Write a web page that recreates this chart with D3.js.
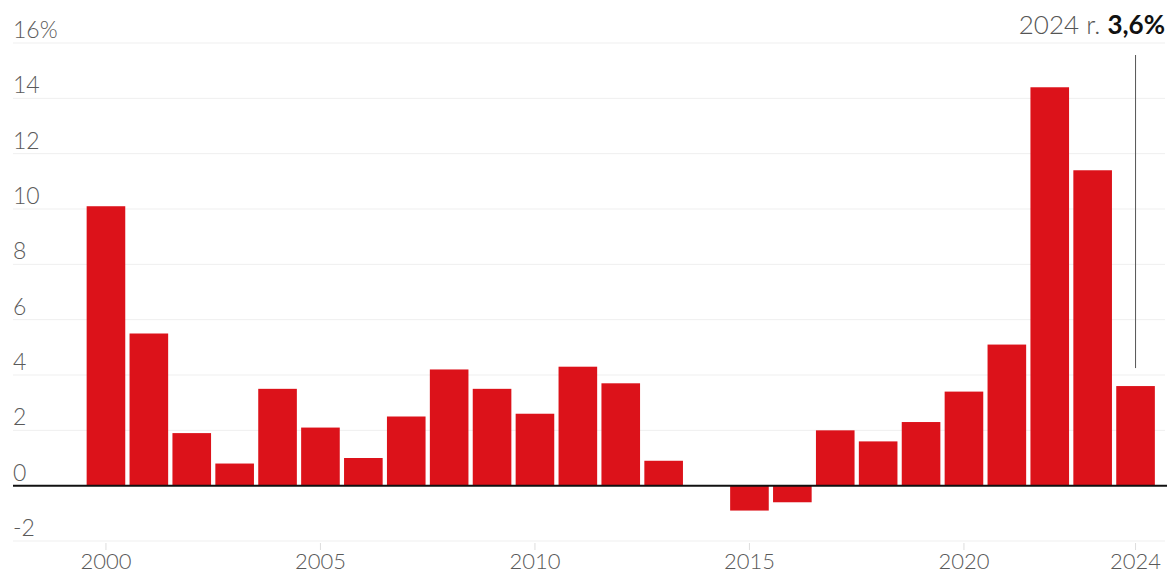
<!DOCTYPE html>
<html><head><meta charset="utf-8">
<script src="https://cdn.jsdelivr.net/npm/d3@7"></script>
<style>
html,body{margin:0;padding:0;background:#fff;}
svg{display:block;font-family:Lato,"Open Sans",sans-serif;}
</style></head>
<body>
<svg id="c" width="1169" height="575"></svg>
<script>
const years = [2000,2001,2002,2003,2004,2005,2006,2007,2008,2009,2010,2011,2012,2013,2014,2015,2016,2017,2018,2019,2020,2021,2022,2023,2024];
const values = [10.1,5.5,1.9,0.8,3.5,2.1,1.0,2.5,4.2,3.5,2.6,4.3,3.7,0.9,0.0,-0.9,-0.6,2.0,1.6,2.3,3.4,5.1,14.4,11.4,3.6];
const yTicks = [-2,0,2,4,6,8,10,12,14,16];
const xTickYears = [2000,2005,2010,2015,2020,2024];
const noteYear = 2024, notePrefix = "2024 r. ", noteValue = "3,6%";

const svg = d3.select("#c");
const left = 13, right = 1167;
const x = d3.scaleBand().domain(years).range([84.5, 1157]).paddingInner(0.1).paddingOuter(0.05);
const y = d3.scaleLinear().domain([-2, 16]).range([541, 43]);

// gridlines
svg.append("g").selectAll("line").data(yTicks.filter(d=>d!==0)).join("line")
  .attr("x1", left).attr("x2", 1165)
  .attr("y1", d=>y(d)).attr("y2", d=>y(d))
  .attr("stroke", "#efefef").attr("stroke-width", 1);

// y labels
svg.append("g").selectAll("text").data(yTicks).join("text")
  .attr("x", left).attr("y", d=>y(d)-5)
  .attr("fill", "#5a5a5a").attr("font-size", 23).attr("font-weight", 300)
  .text(d => d===16 ? "16%" : String(d));

// bars
svg.append("g").selectAll("rect").data(years.map((yr,i)=>({yr, v:values[i]}))).join("rect")
  .attr("x", d=>x(d.yr)).attr("width", x.bandwidth())
  .attr("y", d=>y(Math.max(0,d.v))).attr("height", d=>Math.abs(y(d.v)-y(0)))
  .attr("fill", "#dc121a");

// zero line
svg.append("line").attr("x1", left).attr("x2", right).attr("y1", y(0)).attr("y2", y(0))
  .attr("stroke", "#111").attr("stroke-width", 2);

// x axis ticks & labels
const xa = svg.append("g");
xa.selectAll("line").data(xTickYears).join("line")
  .attr("x1", d=>x(d)+x.bandwidth()/2).attr("x2", d=>x(d)+x.bandwidth()/2)
  .attr("y1", 543).attr("y2", 550).attr("stroke", "#ddd");
xa.selectAll("text").data(xTickYears).join("text")
  .attr("x", d=>x(d)+x.bandwidth()/2).attr("y", 569)
  .attr("text-anchor", "middle").attr("fill", "#5a5a5a").attr("font-size", 22).attr("font-weight", 300)
  .text(d=>d);

// annotation
const nx = x(noteYear)+x.bandwidth()/2;
svg.append("line").attr("x1", nx).attr("x2", nx).attr("y1", 55).attr("y2", y(values[years.indexOf(noteYear)])-18)
  .attr("stroke", "#555").attr("stroke-width", 1);
const t = svg.append("text").attr("x", 1165).attr("y", 34).attr("text-anchor", "end").attr("font-size", 26);
t.append("tspan").attr("fill", "#555").attr("font-weight", 300).text(notePrefix);
t.append("tspan").attr("fill", "#111").attr("font-weight", 700).text(noteValue);
</script>
</body></html>
